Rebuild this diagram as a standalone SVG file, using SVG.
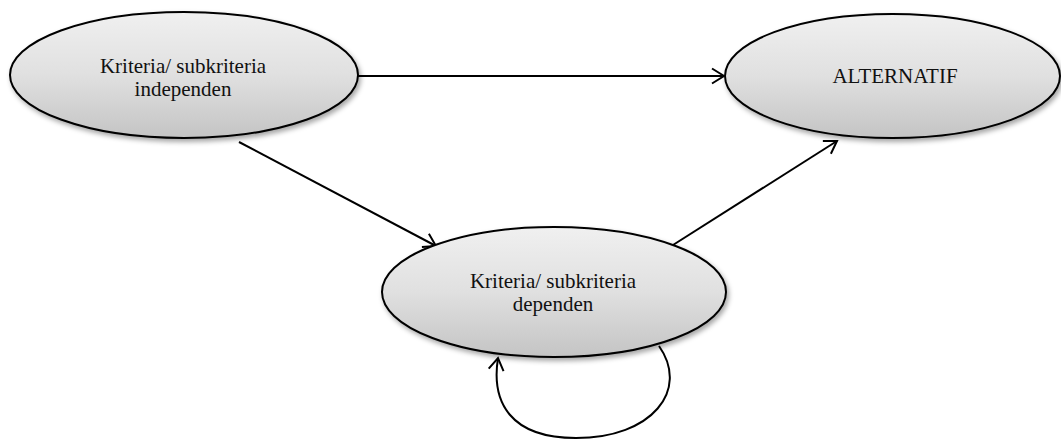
<svg xmlns="http://www.w3.org/2000/svg" width="1061" height="444" viewBox="0 0 1061 444">
  <style>
    .node { fill: url(#nodeFill); stroke: #000; stroke-width: 2; filter: url(#shadow); }
    .label { font-family: "Liberation Serif", "Times New Roman", serif; font-size: 21px; fill: #111; text-anchor: middle; }
    .edge { fill: none; stroke: #000; stroke-width: 2; marker-end: url(#openArrow); }
  </style>
  <defs>
    <linearGradient id="nodeFill" x1="0" y1="0" x2="0" y2="1">
      <stop offset="0" stop-color="#f0f0f0"/>
      <stop offset="0.5" stop-color="#e0e0e0"/>
      <stop offset="1" stop-color="#c4c4c4"/>
    </linearGradient>
    <filter id="shadow" x="-10%" y="-10%" width="125%" height="135%">
      <feDropShadow dx="2" dy="3" stdDeviation="2.5" flood-color="#000" flood-opacity="0.35"/>
    </filter>
    <marker id="openArrow" markerUnits="userSpaceOnUse" markerWidth="20" markerHeight="20" viewBox="-14 -10 16 20" refX="0" refY="0" orient="auto">
      <path d="M-12,-7.5 L0,0 L-12,7.5" fill="none" stroke="#000" stroke-width="2"/>
    </marker>
  </defs>

  <g id="connectors">
    <path class="edge" d="M355,76 L724,76"/>
    <path class="edge" d="M239,142 L436,246"/>
    <path class="edge" d="M673,245 L837,141"/>
    <path class="edge" d="M659,346 C690,390 652,438 576,438 C510,438 491,402 498,358"/>
  </g>

  <g id="node-independen">
    <ellipse class="node" cx="184" cy="75" rx="174" ry="63"/>
    <text class="label" x="183" y="73">Kriteria/ subkriteria</text>
    <text class="label" x="183" y="96">independen</text>
  </g>

  <g id="node-alternatif">
    <ellipse class="node" cx="892.5" cy="76" rx="167.5" ry="62"/>
    <text class="label" x="895" y="83">ALTERNATIF</text>
  </g>

  <g id="node-dependen">
    <ellipse class="node" cx="554" cy="292" rx="172" ry="65"/>
    <text class="label" x="553" y="288">Kriteria/ subkriteria</text>
    <text class="label" x="553" y="311">dependen</text>
  </g>
</svg>
